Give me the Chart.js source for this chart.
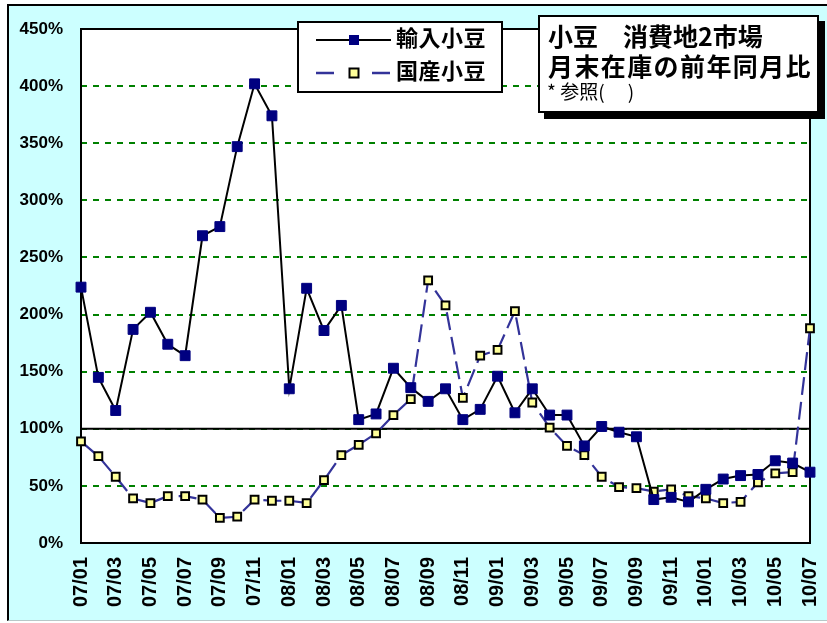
<!DOCTYPE html>
<html><head><meta charset="utf-8">
<script src="https://cdn.jsdelivr.net/npm/chart.js@4.4.0/dist/chart.umd.min.js"></script>
<style>
html,body{margin:0;padding:0;background:#fff;width:827px;height:623px;overflow:hidden;}
#frame{position:absolute;left:7px;top:4px;width:830px;height:617px;background:#CCFFFF;border-top:2px solid #000;border-left:2px solid #000;border-bottom:1px solid #b8c8c8;box-sizing:border-box;}
#wrap{position:absolute;left:0;top:0;width:827px;height:623px;}
.jp{font-family:"Noto Sans CJK JP","Noto Sans CJK SC",sans-serif;color:#000;}
#legend{position:absolute;left:297px;top:21px;width:206px;height:72px;box-sizing:border-box;border:2px solid #000;background:#fff;}
#legend svg{position:absolute;left:-2px;top:-2px;}
.lt{position:absolute;font-weight:bold;font-size:22px;line-height:22px;white-space:nowrap;letter-spacing:0.5px;}
#title{position:absolute;left:538px;top:15px;width:281px;height:98px;box-sizing:border-box;border:2px solid #000;background:#fff;box-shadow:6px 6px 0 #000;}
.tt{position:absolute;white-space:pre;}
.b{font-weight:bold;font-size:25px;line-height:25px;}
.r{font-weight:normal;font-size:19px;line-height:19px;}
</style></head>
<body>
<div id="frame"></div>
<div id="wrap"><canvas id="c" width="827" height="623"></canvas></div>
<div id="legend" class="jp">
  <svg width="206" height="72">
    <line x1="19" y1="19" x2="94" y2="19" stroke="#000" stroke-width="2"/>
    <rect x="52" y="14" width="10" height="10" fill="#000080"/>
    <line x1="19" y1="52" x2="37" y2="52" stroke="#333399" stroke-width="2.5"/>
    <line x1="75" y1="52" x2="93" y2="52" stroke="#333399" stroke-width="2.5"/>
    <rect x="52.5" y="47.5" width="9" height="9" fill="#FFFF99" stroke="#000" stroke-width="2"/>
  </svg>
  <div class="lt" id="lt1" style="left:97px;top:2px;"></div>
  <div class="lt" id="lt2" style="left:97px;top:35px;"></div>
</div>
<div id="title" class="jp">
  <div class="tt b" style="left:8px;top:6px;">小豆　消費地2市場</div>
  <div class="tt b" style="left:8px;top:36px;letter-spacing:1.4px;">月末在庫の前年同月比</div>
  <div class="tt r" style="left:7px;top:64px;">* 参照(　 )</div>
</div>
<script>
// ---- data ----
const months = ['07/01','07/02','07/03','07/04','07/05','07/06','07/07','07/08','07/09','07/10','07/11','07/12',
                '08/01','08/02','08/03','08/04','08/05','08/06','08/07','08/08','08/09','08/10','08/11','08/12',
                '09/01','09/02','09/03','09/04','09/05','09/06','09/07','09/08','09/09','09/10','09/11','09/12',
                '10/01','10/02','10/03','10/04','10/05','10/06','10/07'];
const seriesNames = ['輸入小豆','国産小豆'];
const imported = [224,145,116,187,202,174,164,269,277,347,402,374,
                  135,223,186,208,108,113,153,136,124,135,108,117,
                  146,114,135,112,112,85,102,97,93,38,40,36,
                  47,56,59,60,72,70,62];
const domestic = [89,76,58,39,35,41,41,38,22,23,38,37,
                  37,35,55,77,86,96,112,126,230,208,127,164,
                  169,203,123,101,85,77,58,49,48,45,47,41,
                  39,35,36,53,61,62,188];
const yMin = 0, yMax = 450, yStep = 50;
const refLine = 100;

document.getElementById('lt1').textContent = seriesNames[0];
document.getElementById('lt2').textContent = seriesNames[1];

const plotPlugin = {
  id: 'plotDecor',
  beforeDraw(chart) {
    const {ctx, chartArea: a} = chart;
    ctx.save();
    ctx.fillStyle = '#ffffff';
    ctx.fillRect(a.left, a.top, a.right - a.left, a.bottom - a.top);
    ctx.restore();
  },
  beforeDatasetsDraw(chart) {
    const {ctx, chartArea: a, scales: {y}} = chart;
    ctx.save();
    ctx.setLineDash([]);
    ctx.strokeStyle = '#000';
    ctx.lineWidth = 2;
    const yp = y.getPixelForValue(refLine);
    ctx.beginPath(); ctx.moveTo(a.left, yp); ctx.lineTo(a.right, yp); ctx.stroke();
    ctx.strokeRect(a.left, a.top, a.right - a.left, a.bottom - a.top);
    ctx.restore();
  }
};

const tickFont = {family: "'Liberation Sans', Arial, sans-serif", weight: 'bold'};

new Chart(document.getElementById('c'), {
  type: 'line',
  data: {
    labels: months,
    datasets: [
      {
        label: seriesNames[0], data: imported,
        borderColor: '#000000', borderWidth: 2, tension: 0,
        pointStyle: 'rect', pointRadius: 7, pointBackgroundColor: '#000080',
        pointBorderColor: '#000080', pointBorderWidth: 1, clip: false
      },
      {
        label: seriesNames[1], data: domestic,
        borderColor: '#333399', borderWidth: 2.2, borderDash: [18, 7], tension: 0,
        pointStyle: 'rect', pointRadius: 5.5, pointBackgroundColor: '#FFFF99',
        pointBorderColor: '#000000', pointBorderWidth: 2, clip: false
      }
    ]
  },
  options: {
    responsive: false, animation: false, devicePixelRatio: 1,
    layout: {padding: {left: 8, right: 17, top: 29, bottom: 0}},
    plugins: {legend: {display: false}, tooltip: {enabled: false}, title: {display: false}},
    scales: {
      x: {
        type: 'category', offset: false,
        grid: {display: false, drawTicks: false},
        border: {display: false},
        ticks: {
          autoSkip: false, minRotation: 90, maxRotation: 90, padding: 14, color: '#000',
          font: Object.assign({size: 20}, tickFont),
          callback: (v, i) => (i % 2 === 0 ? months[i] : '')
        },
        afterFit: s => { s.height = 80; s.paddingLeft = 0; s.paddingRight = 0; }
      },
      y: {
        min: yMin, max: yMax,
        grid: {color: '#008000', lineWidth: 2, drawTicks: false},
        border: {display: false, dash: [6, 6]},
        ticks: {
          stepSize: yStep, padding: 18, color: '#000',
          font: Object.assign({size: 17}, tickFont),
          callback: v => v + '%'
        },
        afterFit: s => { s.width = 73; s.paddingTop = 0; s.paddingBottom = 0; }
      }
    }
  },
  plugins: [plotPlugin]
});
</script>
</body></html>
